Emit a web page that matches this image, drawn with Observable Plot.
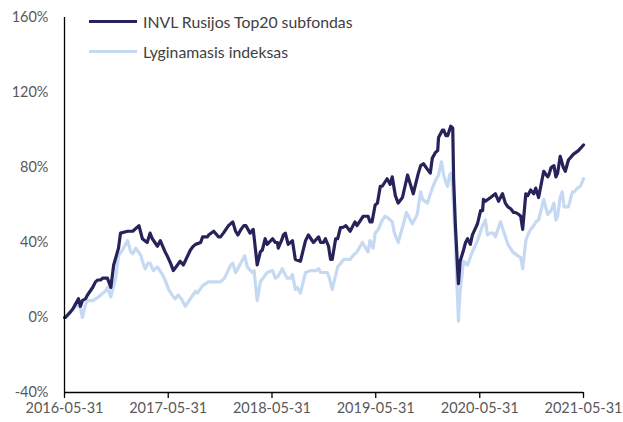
<!DOCTYPE html>
<html><head><meta charset="utf-8">
<script src="https://cdn.jsdelivr.net/npm/d3@7"></script>
<script src="https://cdn.jsdelivr.net/npm/@observablehq/plot@0.6"></script>
<style>
body{margin:0;background:#fff;}
#wrap{position:relative;width:623px;height:422px;font-family:Lato,"Open Sans",sans-serif;}
.leg{position:absolute;left:89px;display:flex;align-items:center;font-size:15.8px;color:#404040;line-height:1;}
.leg .sw{display:inline-block;width:48px;height:3px;margin-right:6px;}
</style></head><body><div id="wrap"></div>
<script>
// Series names
const seriesNames = ["INVL Rusijos Top20 subfondas", "Lyginamasis indeksas"];
const seriesColors = ["#26235a", "#c6d9f3"];

// Fund (dark line), % change
const fundDates = [
"2016-05-31","2016-06-03","2016-06-21","2016-07-01","2016-07-19","2016-07-26","2016-08-02","2016-08-13","2016-08-20","2016-09-07",
"2016-09-17","2016-09-25","2016-10-05","2016-10-12","2016-10-22","2016-10-29","2016-11-10","2016-11-20","2016-12-07","2016-12-14",
"2017-01-08","2017-01-26","2017-02-17","2017-03-01","2017-03-18","2017-03-28","2017-04-05","2017-04-23","2017-05-03","2017-05-20",
"2017-05-27","2017-06-08","2017-06-18","2017-07-12","2017-07-23","2017-08-17","2017-08-27","2017-09-04","2017-09-22","2017-09-29",
"2017-10-16","2017-10-20","2017-11-07","2017-11-24","2017-12-01","2017-12-11","2017-12-29","2018-01-13","2018-01-23","2018-01-31",
"2018-02-11","2018-02-21","2018-02-28","2018-03-15","2018-03-26","2018-04-09","2018-04-20","2018-04-27","2018-05-07","2018-05-14",
"2018-06-02","2018-06-12","2018-06-19","2018-06-22","2018-07-06","2018-07-10","2018-07-17","2018-07-27","2018-08-04","2018-08-11",
"2018-08-21","2018-09-08","2018-09-26","2018-10-06","2018-10-24","2018-11-11","2018-11-18","2018-11-28","2018-12-05","2018-12-16",
"2018-12-23","2018-12-29","2019-01-10","2019-01-17","2019-01-27","2019-02-04","2019-02-15","2019-03-02","2019-03-19","2019-03-26",
"2019-04-17","2019-05-04","2019-05-11","2019-05-18","2019-05-29","2019-06-06","2019-06-16","2019-06-23","2019-07-10","2019-07-21",
"2019-07-28","2019-08-08","2019-08-18","2019-09-02","2019-09-20","2019-09-30","2019-10-10","2019-10-28","2019-11-05","2019-11-15",
"2019-11-29","2019-12-09","2019-12-16","2019-12-27","2020-01-04","2020-01-07","2020-01-21","2020-01-25","2020-02-02","2020-02-08",
"2020-02-19","2020-02-26","2020-02-29","2020-03-06","2020-03-13","2020-03-17","2020-03-23","2020-04-04","2020-04-11","2020-04-18",
"2020-04-21","2020-04-28","2020-05-05","2020-05-08","2020-05-23","2020-06-03","2020-06-10","2020-06-13","2020-06-20","2020-07-08",
"2020-07-25","2020-08-05","2020-08-19","2020-08-29","2020-09-07","2020-09-17","2020-09-27","2020-10-04","2020-10-15","2020-10-22",
"2020-10-29","2020-11-09","2020-11-16","2020-11-26","2020-12-07","2020-12-14","2020-12-24","2021-01-11","2021-01-25","2021-01-29",
"2021-02-06","2021-02-16","2021-02-23","2021-03-01","2021-03-10","2021-03-21","2021-03-28","2021-04-08","2021-04-25","2021-05-13",
"2021-05-31"];
const fundValues = [
0,0,3,5,10,6,9,10,12,16,
19,20,20,21,21,21,16,28,37,45,
46,46,49,42,40,45,42,38,41,35,
33,29,25,30,28,36,38,39,40,43,
43,44,46,43,43,45,49,51,46,44,
47,49,49,45,47,28,35,36,42,39,
42,40,40,37,42,44,45,39,40,41,
31,30,41,44,40,43,40,40,42,38,
31,31,42,42,48,48,49,46,51,49,
54,54,51,51,60,61,70,70,74,71,
75,65,61,64,76,71,66,77,81,82,
79,77,85,88,89,96,100,100,97,97,
102,101,74,50,29,18,30,36,40,42,
41,39,44,45,50,57,57,63,62,64,
66,62,66,61,59,58,56,56,55,54,
47,66,65,68,66,69,64,78,75,76,
80,81,75,77,86,80,78,84,87,89,
92];

// Benchmark index (light line), % change
const indexDates = [
"2016-05-31","2016-06-03","2016-06-21","2016-07-01","2016-07-08","2016-07-26","2016-08-02","2016-08-13","2016-08-20","2016-09-07",
"2016-09-28","2016-10-05","2016-10-22","2016-10-29","2016-11-10","2016-11-27","2016-12-07","2016-12-21","2017-01-08","2017-01-19",
"2017-01-26","2017-02-06","2017-02-24","2017-03-01","2017-03-11","2017-03-21","2017-03-28","2017-04-09","2017-04-23","2017-05-10",
"2017-05-20","2017-06-01","2017-06-18","2017-06-25","2017-07-05","2017-07-16","2017-07-30","2017-08-17","2017-09-04","2017-09-11",
"2017-09-29","2017-10-20","2017-11-14","2017-12-01","2017-12-15","2018-01-06","2018-01-13","2018-01-23","2018-01-31","2018-02-17",
"2018-02-24","2018-03-05","2018-03-22","2018-03-29","2018-04-09","2018-04-20","2018-05-14","2018-06-02","2018-06-12","2018-06-22",
"2018-07-06","2018-07-23","2018-08-04","2018-08-11","2018-08-21","2018-08-28","2018-09-08","2018-09-26","2018-10-13","2018-11-01",
"2018-11-11","2018-11-18","2018-11-28","2018-12-12","2018-12-19","2018-12-29","2019-01-17","2019-02-08","2019-03-02","2019-03-12",
"2019-03-26","2019-04-14","2019-05-04","2019-05-11","2019-05-22","2019-05-29","2019-06-09","2019-06-23","2019-07-03","2019-07-14",
"2019-07-28","2019-08-05","2019-08-18","2019-09-02","2019-09-16","2019-10-07","2019-10-24","2019-11-05","2019-11-12","2019-11-29",
"2019-12-16","2019-12-27","2020-01-07","2020-01-17","2020-01-25","2020-02-02","2020-02-08","2020-02-15","2020-02-19","2020-02-26",
"2020-03-03","2020-03-06","2020-03-13","2020-03-17","2020-03-23","2020-04-04","2020-04-18","2020-05-05","2020-05-23","2020-06-10",
"2020-06-20","2020-06-27","2020-07-08","2020-07-18","2020-07-25","2020-08-12","2020-08-23","2020-09-07","2020-09-24","2020-10-11",
"2020-10-22","2020-10-29","2020-11-09","2020-11-16","2020-11-26","2020-12-07","2020-12-14","2020-12-24","2021-01-11","2021-01-25",
"2021-02-06","2021-02-16","2021-02-23","2021-03-01","2021-03-10","2021-03-17","2021-03-24","2021-04-08","2021-04-22","2021-04-29",
"2021-05-09","2021-05-20","2021-05-31"];
const indexValues = [
0,0,3,4,7,5,0,7,9,9,
11,12,14,16,11,21,33,36,41,35,
34,37,33,30,26,29,29,25,27,23,
20,15,11,10,12,10,6,10,14,13,
17,19,19,19,21,28,29,24,26,31,
33,27,24,25,9,19,24,25,21,22,
26,21,21,23,15,16,13,24,25,25,
26,24,24,24,21,15,27,31,31,33,
35,40,35,41,37,45,47,52,54,53,
51,45,40,48,56,50,55,67,63,61,
69,73,76,83,76,72,70,76,77,69,
50,42,13,-2,14,30,28,35,41,49,
52,44,45,45,43,51,46,39,35,33,
32,26,41,44,47,49,51,52,63,55,
57,61,52,54,64,67,59,59,67,67,
69,70,74];

// Axes
const xTickLabels = ["2016-05-31","2017-05-31","2018-05-31","2019-05-31","2020-05-31","2021-05-31"];
const yTicks = [-40, 0, 40, 80, 120, 160];

const parse = d3.utcParse("%Y-%m-%d");
const fundRows = fundDates.map((d, i) => ({date: parse(d), value: fundValues[i], series: seriesNames[0]}));
const indexRows = indexDates.map((d, i) => ({date: parse(d), value: indexValues[i], series: seriesNames[1]}));
const xTicks = xTickLabels.map(parse);

const chart = Plot.plot({
  width: 623, height: 422,
  marginLeft: 64, marginRight: 40, marginTop: 17, marginBottom: 30,
  style: {fontFamily: "Lato, 'Open Sans', sans-serif", fontSize: "14.5px", background: "#fff", overflow: "visible"},
  x: {type: "utc", domain: [xTicks[0], xTicks[xTicks.length - 1]]},
  y: {domain: [-40, 160]},
  marks: [
    Plot.axisY({ticks: yTicks, tickSize: 0, tickPadding: 16, tickFormat: d => d + "%", fill: "#595959", label: null, fontSize: 14.5}),
    Plot.axisX({ticks: xTicks, tickSize: 6, tickPadding: 4, tickFormat: d3.utcFormat("%Y-%m-%d"), stroke: "#000", strokeWidth: 1.3, fill: "#595959", label: null, fontSize: 14.5}),
    Plot.line(indexRows, {x: "date", y: "value", stroke: seriesColors[1], strokeWidth: 3.2, strokeLinejoin: "round"}),
    Plot.line(fundRows, {x: "date", y: "value", stroke: seriesColors[0], strokeWidth: 3.2, strokeLinejoin: "round"}),
    Plot.ruleY([-40], {stroke: "#000", strokeWidth: 1.3}),
    Plot.ruleX([xTicks[0]], {y1: -40, y2: 160, stroke: "#000", strokeWidth: 1.3})
  ]
});
const wrap = document.getElementById("wrap");
wrap.appendChild(chart);
seriesNames.forEach((name, i) => {
  const div = document.createElement("div");
  div.className = "leg";
  div.style.top = (i === 0 ? 14 : 44) + "px";
  const sw = document.createElement("span");
  sw.className = "sw";
  sw.style.background = seriesColors[i];
  div.appendChild(sw);
  div.appendChild(document.createTextNode(name));
  wrap.appendChild(div);
});
</script>
</body></html>
